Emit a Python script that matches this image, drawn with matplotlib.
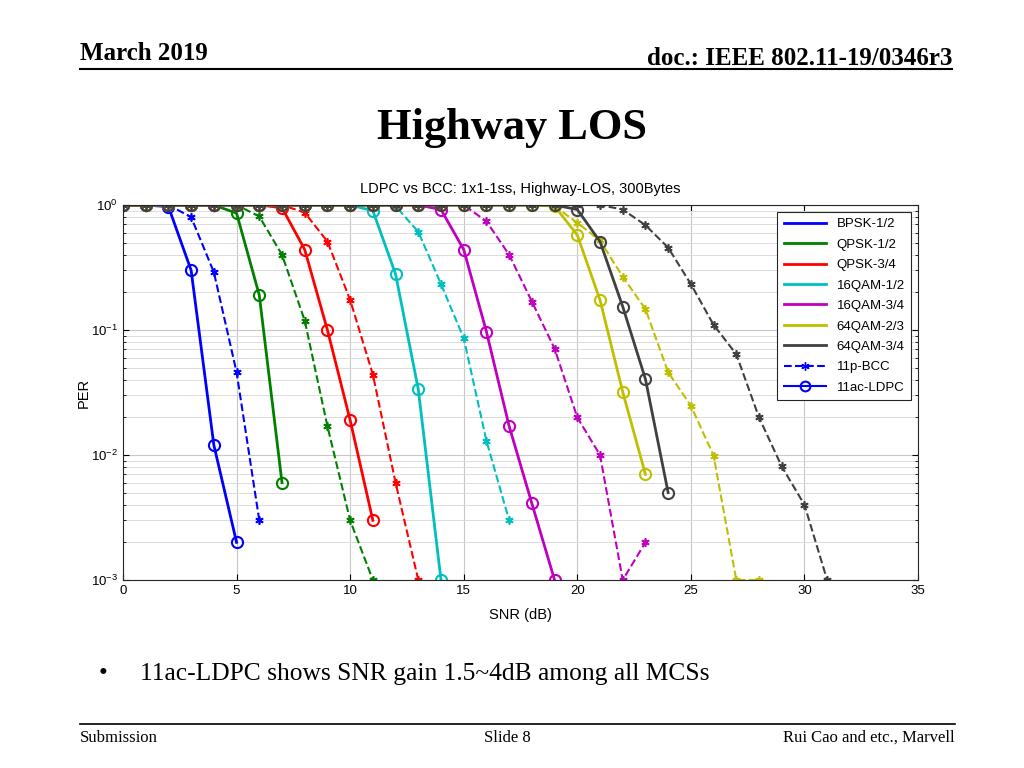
"""Recreate the 'Highway LOS' PER vs SNR slide (LDPC vs BCC, 1x1-1ss, 300 bytes)."""

import matplotlib
matplotlib.use("Agg")
import matplotlib.pyplot as plt
import numpy as np
from matplotlib.lines import Line2D
from matplotlib.ticker import FixedLocator, FuncFormatter, LogLocator, NullLocator

plt.rcParams["font.family"] = ["Liberation Sans", "DejaVu Sans"]
plt.rcParams["mathtext.fontset"] = "custom"
plt.rcParams["mathtext.rm"] = "Liberation Sans"

# MCS names and MATLAB-like colours
MCS = ["BPSK-1/2", "QPSK-1/2", "QPSK-3/4", "16QAM-1/2", "16QAM-3/4", "64QAM-2/3", "64QAM-3/4"]
COLORS = ["#0000ff", "#008000", "#ff0000", "#00bfbf", "#bf00bf", "#bfbf00", "#404040"]

# PER values at SNR = 0, 1, 2, ... dB
PER_LDPC = [
    [1, 1, 0.97, 0.30, 0.012, 0.002],
    [1, 1, 1, 1, 1, 0.86, 0.19, 0.006],
    [1, 1, 1, 1, 1, 1, 1, 0.95, 0.44, 0.10, 0.019, 0.003],
    [1, 1, 1, 1, 1, 1, 1, 1, 1, 1, 1, 0.90, 0.28, 0.0335, 0.001],
    [1, 1, 1, 1, 1, 1, 1, 1, 1, 1, 1, 1, 1, 1, 0.92, 0.44, 0.097, 0.017, 0.0041, 0.001],
    [1, 1, 1, 1, 1, 1, 1, 1, 1, 1, 1, 1, 1, 1, 1, 1, 1, 1, 1, 0.98, 0.575, 0.174, 0.032,
     0.007],
    [1, 1, 1, 1, 1, 1, 1, 1, 1, 1, 1, 1, 1, 1, 1, 1, 1, 1, 1, 1, 0.92, 0.51, 0.154, 0.0405,
     0.005],
]
PER_BCC = [
    [1, 1, 1, 0.80, 0.29, 0.046, 0.003],
    [1, 1, 1, 1, 1, 1, 0.81, 0.40, 0.119, 0.017, 0.003, 0.001],
    [1, 1, 1, 1, 1, 1, 1, 1, 0.87, 0.51, 0.174, 0.044, 0.006, 0.001],
    [1, 1, 1, 1, 1, 1, 1, 1, 1, 1, 1, 1, 0.98, 0.61, 0.233, 0.086, 0.013, 0.003],
    [1, 1, 1, 1, 1, 1, 1, 1, 1, 1, 1, 1, 1, 1, 1, 1, 0.74, 0.40, 0.169, 0.071, 0.020, 0.010,
     0.001, 0.002],
    [1, 1, 1, 1, 1, 1, 1, 1, 1, 1, 1, 1, 1, 1, 1, 1, 1, 1, 1, 0.98, 0.72, 0.52, 0.267, 0.147,
     0.046, 0.0248, 0.0099, 0.001, 0.001],
    [1, 1, 1, 1, 1, 1, 1, 1, 1, 1, 1, 1, 1, 1, 1, 1, 1, 1, 1, 1, 1, 1, 0.92, 0.69, 0.456,
     0.233, 0.11, 0.064, 0.020, 0.0081, 0.004, 0.001],
]

X_TICKS = [0, 5, 10, 15, 20, 25, 30, 35]
Y_TICKS = [1e-3, 1e-2, 1e-1, 1e0]

ASTERISK = (6, 2, 0)


def main() -> None:
    fig = plt.figure(figsize=(10.24, 7.68), dpi=100)

    # slide header / footer
    serif = ["Liberation Serif", "DejaVu Serif"]
    fig.text(80 / 1024, 1 - 60 / 768, "March 2019", family=serif, weight="bold",
             fontsize=18, ha="left", va="baseline")
    fig.text(952 / 1024, 1 - 65 / 768, "doc.: IEEE 802.11-19/0346r3", family=serif,
             weight="bold", fontsize=18, ha="right", va="baseline")
    fig.add_artist(Line2D([80 / 1024, 952 / 1024], [1 - 69 / 768] * 2, color="black", lw=1.5))
    fig.text(0.5, 1 - 128 / 768, "Highway LOS", family=serif, weight="bold", fontsize=32,
             ha="center", va="center")
    fig.text(103 / 1024, 1 - 680 / 768, "\u2022", family=serif, fontsize=18, ha="center",
             va="baseline")
    fig.text(140 / 1024, 1 - 680 / 768, "11ac-LDPC shows SNR gain 1.5~4dB among all MCSs",
             family=serif, fontsize=18.4, ha="left", va="baseline")
    fig.add_artist(Line2D([80 / 1024, 955 / 1024], [1 - 724 / 768] * 2, color="black", lw=1.2))
    fig.text(80 / 1024, 1 - 742 / 768, "Submission", family=serif, fontsize=12, ha="left",
             va="baseline")
    fig.text(507 / 1024, 1 - 742 / 768, "Slide 8", family=serif, fontsize=12, ha="center",
             va="baseline")
    fig.text(955 / 1024, 1 - 742 / 768, "Rui Cao and etc., Marvell", family=serif, fontsize=12,
             ha="right", va="baseline")

    ax = fig.add_axes([123 / 1024, 1 - 580 / 768, 795 / 1024, 375 / 768])

    for color, ldpc, bcc in zip(COLORS, PER_LDPC, PER_BCC):
        ax.plot(np.arange(len(bcc)), bcc, color=color, ls="--", lw=1.5, marker=ASTERISK,
                ms=6, mew=1.2)
        ax.plot(np.arange(len(ldpc)), ldpc, color=color, ls="-", lw=2.0, marker="o", ms=8,
                mfc="none", mew=1.5)

    ax.set_yscale("log")
    ax.set_xlim(0, 35)
    ax.set_ylim(1e-3, 1)
    ax.xaxis.set_major_locator(FixedLocator(X_TICKS))
    ax.xaxis.set_minor_locator(NullLocator())
    ax.yaxis.set_major_locator(FixedLocator(Y_TICKS))
    ax.yaxis.set_minor_locator(LogLocator(base=10, subs=np.arange(2, 10)))
    ax.yaxis.set_major_formatter(
        FuncFormatter(lambda v, _: r"$\mathregular{10^{%d}}$" % round(np.log10(v))))
    ax.tick_params(which="both", direction="in", top=True, right=True, labelsize=9.5)
    ax.tick_params(which="major", length=4)
    ax.tick_params(which="minor", length=2)
    ax.grid(which="major", color="#c8c8c8", lw=0.8)
    ax.grid(which="minor", axis="y", color="#dcdcdc", lw=0.7)
    ax.set_axisbelow(True)
    for spine in ax.spines.values():
        spine.set_color("#262626")
        spine.set_linewidth(0.8)

    ax.set_title("LDPC vs BCC: 1x1-1ss, Highway-LOS, 300Bytes", fontsize=10.5, pad=9)
    ax.set_xlabel("SNR (dB)", fontsize=10.5, labelpad=8)
    ax.set_ylabel("PER", fontsize=10.5, labelpad=0)

    handles = [Line2D([], [], color=c, lw=2) for c in COLORS]
    handles.append(Line2D([], [], color="#0000ff", ls="--", lw=1.5, marker=ASTERISK, ms=6))
    handles.append(Line2D([], [], color="#0000ff", ls="-", lw=1.5, marker="o", ms=7,
                          mfc="none", mew=1.5))
    labels = MCS + ["11p-BCC", "11ac-LDPC"]
    leg = ax.legend(handles, labels, loc="upper right", fontsize=9.5, frameon=True,
                    fancybox=False, framealpha=1, edgecolor="#262626", handlelength=3.2,
                    labelspacing=0.62, borderaxespad=0.5, borderpad=0.5)
    leg.get_frame().set_linewidth(0.8)

    fig.savefig("out.png", dpi=100)
    plt.close(fig)


if __name__ == "__main__":
    main()
